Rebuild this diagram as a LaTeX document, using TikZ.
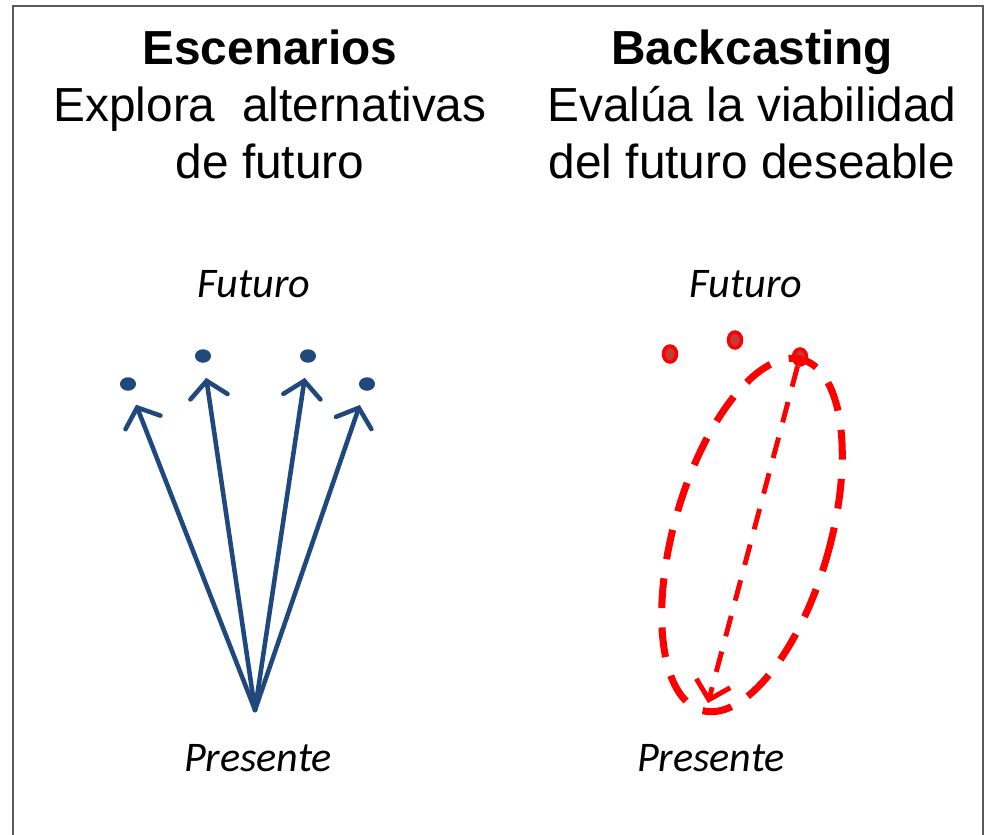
\documentclass[tikz,border=0pt]{standalone}
\usepackage{fontspec}
\setmainfont{Liberation Sans}
\newfontfamily\calibri{Carlito}
\usetikzlibrary{arrows.meta, positioning, shapes.geometric}
\definecolor{azul}{RGB}{31,73,125}
\definecolor{rojo}{RGB}{255,0,0}
\definecolor{marco}{RGB}{90,90,90}
\tikzstyle{titulo} = [font=\fontsize{27.2}{32.4}\selectfont\bfseries, inner sep=0pt, anchor=base]
\tikzstyle{lema} = [font=\fontsize{27.2}{32.4}\selectfont, inner sep=0pt, align=center, anchor=base]
\tikzstyle{tiempo} = [font=\calibri\itshape\fontsize{24}{28}\selectfont, inner sep=0pt, anchor=base]
\tikzstyle{punto} = [ellipse, fill=azul, minimum width=0.32cm, minimum height=0.27cm, inner sep=0pt]
\tikzstyle{meta} = [ellipse, draw=rojo, line width=2pt, fill=rojo!55!gray, minimum width=0.26cm, minimum height=0.32cm, inner sep=0pt]
\tikzstyle{flecha} = [azul, line width=2.6pt, line cap=round, -{Straight Barb[length=0.32cm, width=0.75cm, line cap=round]}, shorten >=0.3cm]
\tikzstyle{regreso} = [rojo, line width=2.8pt, dash pattern=on 12pt off 9pt, -{Straight Barb[length=0.34cm, width=0.7cm]}]

\begin{document}
\begin{tikzpicture}[x=0.02cm, y=-0.02cm]
        \useasboundingbox (0,0) rectangle (988,835);
        \draw [marco, line width=1.1pt] (13,850) -- (13,6) -- (983,6) -- (983,850);

        % textos
        \node (esc) [titulo] at (270,64) {Escenarios};
        \node (explora) [lema] at (270,178) {Explora~ alternativas\\de futuro};
        \node (back) [titulo] at (752,64) {Backcasting};
        \node (evalua) [lema] at (752,178) {Evalúa la viabilidad\\del futuro deseable};
        \node (futesc) [tiempo] at (254,297) {Futuro};
        \node (presesc) [tiempo] at (258,771) {Presente};
        \node (futback) [tiempo] at (746,297) {Futuro};
        \node (presback) [tiempo] at (711,771) {Presente};

        % escenarios
        \coordinate (origen) at (255,710);
        \node (p1) [punto] at (128,384) {};
        \node (p2) [punto] at (203,356) {};
        \node (p3) [punto] at (308,356) {};
        \node (p4) [punto] at (367,384) {};
        \foreach \p in {p1,p2,p3,p4}
            \draw [flecha] (origen) -- (\p);

        % backcasting
        \node (m1) [meta] at (670,354) {};
        \node (m2) [meta] at (735,340) {};
        \node (m3) [meta] at (800,357) {};
        \coordinate (hoy) at (708,703);
        \draw [rojo, line width=4pt, dash pattern=on 17pt off 11pt]
            (752,535) ellipse [x radius=1.56cm, y radius=3.65cm, rotate=-16];
        \draw [regreso] (m3) -- (hoy);
    \end{tikzpicture}
\end{document}
